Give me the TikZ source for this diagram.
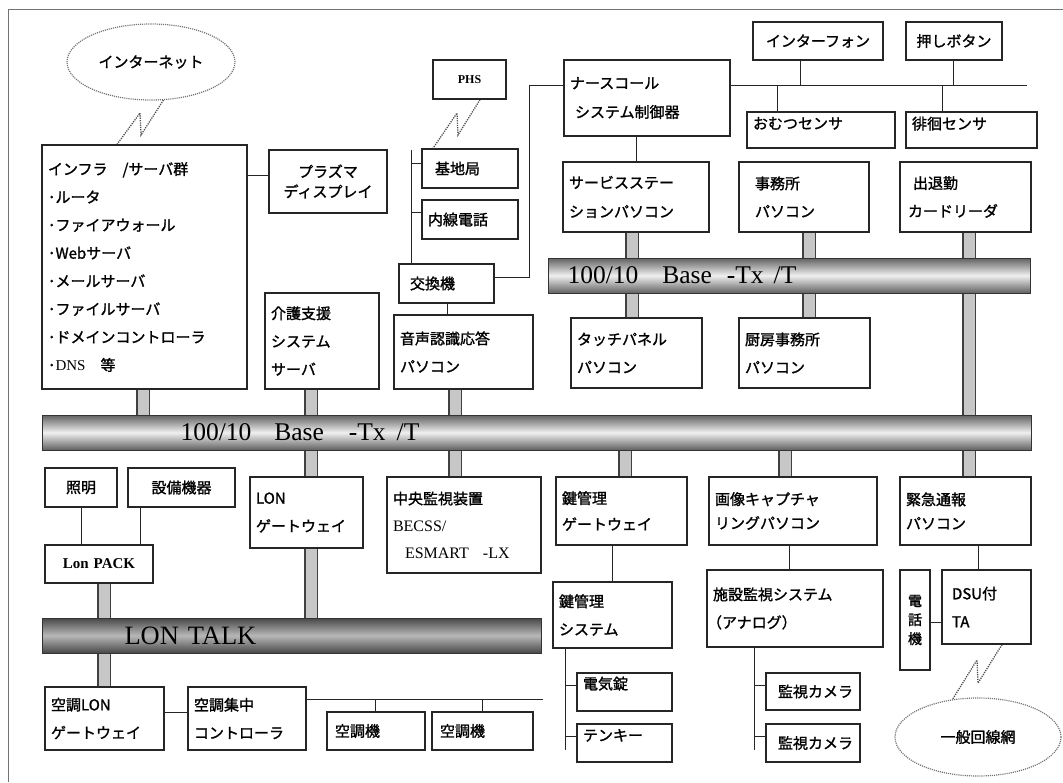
\documentclass[tikz,border=0pt]{standalone}
\usepackage{fontspec}
\setmainfont{Noto Sans CJK JP}[FakeBold=1.4]
\newfontfamily\serif{Liberation Serif}
\usetikzlibrary{shapes.geometric,backgrounds}
\newcommand\Bx[7][]{%
  \pgfmathsetmacro\bw{#5-#3}%
  \pgfmathsetmacro\bh{#6-#4}%
  \pgfmathsetmacro\bcx{(#3+#5)/2}%
  \pgfmathsetmacro\bcy{(#4+#6)/2}%
  \pgfmathsetmacro\btw{#5-#3-12}%
  \node[box, minimum width=\bw pt, minimum height=\bh pt, text width=\btw pt, #1] (#2) at (\bcx,\bcy) {#7};}
\begin{document}
\begin{tikzpicture}[x=1pt,y=-1pt,
  box/.style={draw=black!85, line width=1.3pt, inner xsep=6pt, inner ysep=0pt, align=left,
    font=\fontsize{15}{28}\selectfont},
  bus/.style={draw=black!80, line width=1pt, top color=black!62, bottom color=black!62,
    middle color=black!6, inner sep=0pt, align=left, anchor=west, minimum height=35pt,
    font=\serif\fontsize{25.5}{30}\selectfont},
  lonbus/.style={bus, top color=black!72, bottom color=black!72, middle color=black!28,
    font=\serif\fontsize{26.5}{30}\selectfont},
  pipe/.style={draw=black!75, line width=1.4pt, double=black!22, double distance=11pt},
  ln/.style={draw=black!85, line width=1pt},
  zz/.style={draw=black!70, line width=1.3pt, dash pattern=on 1.2pt off 1.1pt},
  cloud/.style={ellipse, draw=black!55, dash pattern=on 1.1pt off 1pt, line width=1.2pt, inner sep=0pt,
    font=\fontsize{15}{18}\selectfont},
  frame/.style={draw=black!55, line width=1pt}]
\useasboundingbox (0,0) rectangle (1063,782);
\draw[frame] (1063,9) -- (8,9) -- (8,782);

% clouds
\node[cloud, minimum width=168pt, minimum height=76pt] (inet) at (151,62) {インターネット};
\node[cloud, minimum width=166pt, minimum height=78pt] (gen) at (978,737) {一般回線網};

% buses
\node[bus, minimum width=989pt, text width=989pt] (bus1) at (42,432.5)
  {\hspace*{138pt}100/10\hspace{23pt}Base\hspace{25pt}-Tx\hspace{11pt}/T};
\node[bus, minimum width=482pt, text width=482pt] (bus2) at (548,275.5)
  {\hspace*{19pt}100/10\hspace{24pt}Base\hspace{15pt}-Tx\hspace{10pt}/T};
\node[lonbus, minimum width=499pt, text width=499pt] (bus3) at (42,635.5)
  {\hspace*{82pt}LON TALK};

% boxes
\Bx{infra}{42}{145}{247}{389}{インフラ\hspace{1em}/サーバ群\\･ルータ\\･ファイアウォール\\･Webサーバ\\･メールサーバ\\･ファイルサーバ\\･ドメインコントローラ\\･{\serif DNS}\hspace{1em}等}
\Bx[align=center, font=\fontsize{15}{20}\selectfont]{plasma}{269}{150}{387}{213}{プラズマ\\ディスプレイ}
\Bx{kaigo}{265}{293}{379}{389}{介護支援\\システム\\サーバ}
\Bx[align=center, font=\serif\bfseries\fontsize{12}{14}\selectfont]{phs}{433}{60}{506}{99}{PHS}
\Bx{kichi}{422}{149}{518}{188}{\hspace*{7pt}基地局}
\Bx{naisen}{422}{200}{518}{239}{内線電話}
\Bx{kokan}{399}{264}{494}{303}{\hspace*{5pt}交換機}
\Bx[font=\fontsize{15}{29}\selectfont]{nurse}{564}{60}{730}{136}{ナースコール\\\hspace*{5pt}システム制御器}
\Bx[font=\fontsize{15}{29}\selectfont]{service}{563}{162}{709}{232}{サービスステー\\ションパソコン}
\Bx[align=center]{interphone}{753}{22}{883}{60}{インターフォン}
\Bx[align=center]{push}{906}{22}{1002}{60}{押しボタン}
\Bx{omutsu}{747}{112}{895}{148}{\raisebox{14pt}{おむつセンサ}}
\Bx[inner xsep=4pt]{haikai}{906}{112}{1037}{148}{\raisebox{14pt}{徘徊センサ}}
\Bx{jimusho}{739}{162}{869}{232}{\hspace*{10pt}事務所\\\hspace*{10pt}パソコン}
\Bx{shutai}{900}{162}{1031}{232}{\hspace*{7pt}出退勤\\\hspace*{2pt}カードリーダ}
\Bx{onsei}{394}{315}{533}{389}{音声認識応答\\パソコン}
\Bx{touch}{571}{318}{702}{388}{タッチパネル\\パソコン}
\Bx[inner xsep=4pt]{chubo}{739}{318}{870}{388}{厨房事務所\\パソコン}
\Bx{longw}{250}{477}{363}{548}{LON\\ゲートウェイ}
\Bx[font=\fontsize{15}{27}\selectfont]{chuo}{387}{477}{541}{573}{中央監視装置\\{\serif\fontsize{16}{27}\selectfont BECSS/}\\\hspace*{12pt}{\serif\fontsize{16}{27}\selectfont ESMART\hspace{14pt}-LX}}
\Bx[font=\fontsize{15}{26}\selectfont]{kagigw}{556}{477}{687}{545}{鍵管理\\ゲートウェイ}
\Bx[font=\fontsize{15}{24}\selectfont]{gazo}{709}{477}{877}{545}{画像キャプチャ\\リングパソコン}
\Bx[font=\fontsize{15}{24}\selectfont]{kinkyu}{900}{477}{1031}{545}{緊急通報\\パソコン}
\Bx{kagisys}{553}{582}{672}{648}{鍵管理\\システム}
\Bx{denki}{577}{673}{672}{711}{\raisebox{18pt}{電気錠}}
\Bx{tenkey}{577}{724}{672}{762}{\raisebox{16pt}{テンキー}}
\Bx{shisetsu}{707}{570}{883}{647}{施設監視システム\\\hspace*{-6pt}（アナログ）}
\Bx{cam1}{766}{673}{860}{710}{\hspace*{6pt}監視カメラ}
\Bx{cam2}{766}{724}{860}{762}{\hspace*{6pt}監視カメラ}
\Bx{dsu}{942}{570}{1031}{644}{\hspace*{4pt}DSU付\\\hspace*{4pt}TA}
\Bx[align=center, inner xsep=0pt, text width=30pt, font=\fontsize{14}{19}\selectfont]{denwa}{900}{570}{930}{670}{電\\話\\機}
\Bx[align=center]{shomei}{45}{468}{117}{507}{照明}
\Bx[align=center]{setsubi}{128}{468}{235}{507}{設備機器}
\Bx[align=center, font=\serif\bfseries\fontsize{15}{18}\selectfont]{lonpack}{45}{545}{153}{583}{Lon PACK}
\Bx[inner xsep=3pt]{kucholon}{45}{687}{164}{750}{空調LON\\ゲートウェイ}
\Bx[inner xsep=5pt]{shuchu}{188}{687}{306}{750}{空調集中\\コントローラ}
\Bx[inner xsep=8pt]{kuchoki1}{329}{712}{423}{750}{空調機}
\Bx[inner xsep=8pt]{kuchoki2}{434}{712}{531}{750}{空調機}

\begin{scope}[on background layer]
% pipes
\coordinate (p143) at (143,0);
\coordinate (p311) at (311,0);
\coordinate (p455) at (455,0);
\coordinate (p632) at (632,0);
\coordinate (p809) at (809,0);
\coordinate (p969) at (969,0);
\coordinate (p625) at (625,0);
\coordinate (p785) at (785,0);
\coordinate (p104) at (104,0);
\draw[pipe] (p143 |- infra.south) -- (p143 |- bus1.north);
\draw[pipe] (p311 |- kaigo.south) -- (p311 |- bus1.north);
\draw[pipe] (p311 |- bus1.south) -- (p311 |- longw.north);
\draw[pipe] (p311 |- longw.south) -- (p311 |- bus3.north);
\draw[pipe] (p455 |- onsei.south) -- (p455 |- bus1.north);
\draw[pipe] (p455 |- bus1.south) -- (p455 |- chuo.north);
\draw[pipe] (p632 |- service.south) -- (p632 |- bus2.north);
\draw[pipe] (p632 |- bus2.south) -- (p632 |- touch.north);
\draw[pipe] (p809 |- jimusho.south) -- (p809 |- bus2.north);
\draw[pipe] (p809 |- bus2.south) -- (p809 |- chubo.north);
\draw[pipe] (p969 |- shutai.south) -- (p969 |- bus2.north);
\draw[pipe] (p969 |- bus2.south) -- (p969 |- bus1.north);
\draw[pipe] (p969 |- bus1.south) -- (p969 |- kinkyu.north);
\draw[pipe] (p625 |- bus1.south) -- (p625 |- kagigw.north);
\draw[pipe] (p785 |- bus1.south) -- (p785 |- gazo.north);
\draw[pipe] (p104 |- lonpack.south) -- (p104 |- bus3.north);
\draw[pipe] (p104 |- bus3.south) -- (p104 |- kucholon.north);

% thin lines
\coordinate (y175) at (0,175);
\draw[ln] (y175 -| infra.east) -- (y175 -| plasma.west);
\coordinate (vt) at (411,150);
\coordinate (t1) at (411,163);
\coordinate (t2) at (411,212);
\draw[ln] (vt) -- (vt |- kokan.north);
\draw[ln] (t1) -- (t1 -| kichi.west);
\draw[ln] (t2) -- (t2 -| naisen.west);
\coordinate (k1) at (529,277);
\coordinate (k2) at (529,85);
\draw[ln] (k1 -| kokan.east) -- (k1) -- (k2) -- (k2 -| nurse.west);
\coordinate (n1) at (636,0);
\draw[ln] (n1 |- nurse.south) -- (n1 |- service.north);
\coordinate (hb) at (1027,85);
\draw[ln] (hb -| nurse.east) -- (hb);
\coordinate (d1) at (800,85);
\coordinate (d2) at (953,85);
\coordinate (d3) at (777,85);
\coordinate (d4) at (942,85);
\draw[ln] (d1) -- (d1 |- interphone.south);
\draw[ln] (d2) -- (d2 |- push.south);
\draw[ln] (d3) -- (d3 |- omutsu.north);
\draw[ln] (d4) -- (d4 |- haikai.north);
\coordinate (x447) at (447,0);
\draw[ln] (x447 |- kokan.south) -- (x447 |- onsei.north);
\coordinate (x81) at (81,0);
\coordinate (x140) at (140,0);
\draw[ln] (x81 |- shomei.south) -- (x81 |- lonpack.north);
\draw[ln] (x140 |- setsubi.south) -- (x140 |- lonpack.north);
\coordinate (y712) at (0,712);
\draw[ln] (y712 -| kucholon.east) -- (y712 -| shuchu.west);
\coordinate (kb) at (543,699);
\draw[ln] (kb -| shuchu.east) -- (kb);
\coordinate (e1) at (375,699);
\coordinate (e2) at (482,699);
\draw[ln] (e1) -- (e1 |- kuchoki1.north);
\draw[ln] (e2) -- (e2 |- kuchoki2.north);
\coordinate (x612) at (612,0);
\draw[ln] (x612 |- kagigw.south) -- (x612 |- kagisys.north);
\coordinate (kl) at (565,750);
\coordinate (kt1) at (565,685);
\coordinate (kt2) at (565,736);
\draw[ln] (kl |- kagisys.south) -- (kl);
\draw[ln] (kt1) -- (kt1 -| denki.west);
\draw[ln] (kt2) -- (kt2 -| tenkey.west);
\coordinate (x789) at (789,0);
\draw[ln] (x789 |- gazo.south) -- (x789 |- shisetsu.north);
\coordinate (sl) at (754,750);
\coordinate (st1) at (754,685);
\coordinate (st2) at (754,736);
\draw[ln] (sl |- shisetsu.south) -- (sl);
\draw[ln] (st1) -- (st1 -| cam1.west);
\draw[ln] (st2) -- (st2 -| cam2.west);
\coordinate (x978) at (978,0);
\draw[ln] (x978 |- kinkyu.south) -- (x978 |- dsu.north);
\coordinate (y622) at (0,622);
\draw[ln] (y622 -| denwa.east) -- (y622 -| dsu.west);

% wireless zigzags
\coordinate (z1) at (117,0);
\draw[zz] (inet.-72) -- (141,135) -- (140,113) -- (z1 |- infra.north);
\coordinate (z2) at (480,0);
\coordinate (z3) at (433,0);
\draw[zz] (z2 |- phs.south) -- (458,135) -- (457,113) -- (z3 |- kichi.north);
\coordinate (z4) at (1002,0);
\draw[zz] (z4 |- dsu.south) -- (978,683) -- (977,660) -- (gen.124);
\end{scope}
\end{tikzpicture}
\end{document}
